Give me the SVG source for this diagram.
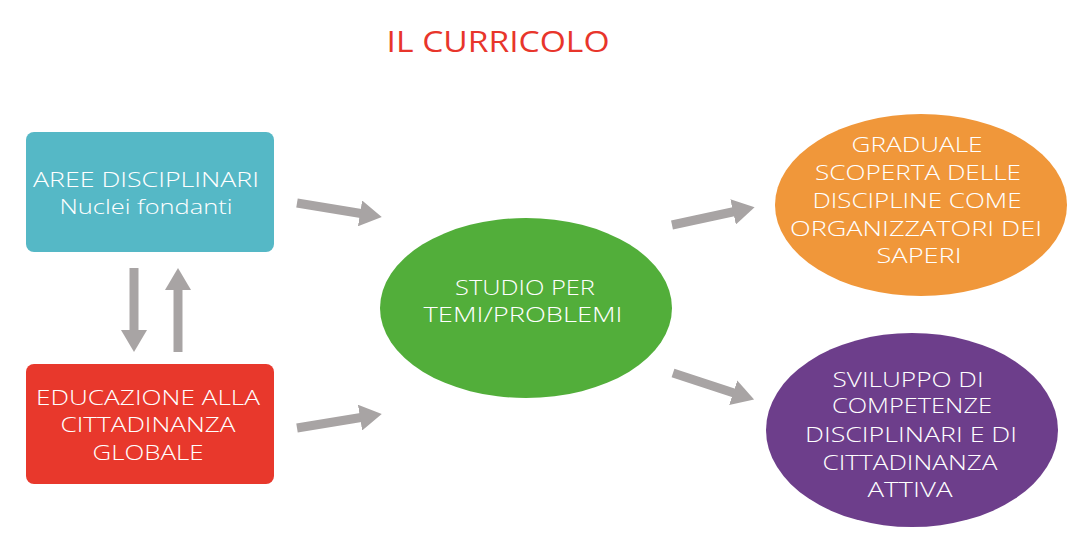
<svg xmlns="http://www.w3.org/2000/svg" width="1083" height="555" viewBox="0 0 1083 555">
<style>
.t{font-family:"Open Sans","Liberation Sans",sans-serif;font-size:21px;font-weight:300;fill:#ffffff;text-anchor:middle}
.title{font-family:"Open Sans","Liberation Sans",sans-serif;font-size:30px;font-weight:500;fill:#e8352b;text-anchor:middle}
.c{stroke:#a8a4a4;stroke-width:9;fill:none;marker-end:url(#ah)}
</style>
<defs>
<marker id="ah" markerUnits="userSpaceOnUse" viewBox="0 0 22 26" refX="4" refY="13" markerWidth="22" markerHeight="26" orient="auto">
<path d="M0,0 L22,13 L0,26 z" fill="#a8a4a4"/>
</marker>
</defs>
<rect width="1083" height="555" fill="#ffffff"/>
<text class="title" x="498" y="52" textLength="223" lengthAdjust="spacingAndGlyphs">IL CURRICOLO</text>
<g id="connectors">
<line class="c" x1="297" y1="203" x2="364" y2="214"/>
<line class="c" x1="297" y1="428" x2="364" y2="417"/>
<line class="c" x1="672" y1="225" x2="737" y2="211"/>
<line class="c" x1="673" y1="373" x2="737" y2="394"/>
<line class="c" x1="134" y1="268" x2="134" y2="334"/>
<line class="c" x1="178" y1="352" x2="178" y2="286"/>
</g>
<g id="aree">
<rect x="26" y="132" width="248" height="120" rx="8" fill="#55b8c6"/>
<text class="t" x="146" y="187" textLength="226" lengthAdjust="spacingAndGlyphs">AREE DISCIPLINARI</text>
<text class="t" x="146" y="214" textLength="173" lengthAdjust="spacingAndGlyphs">Nuclei fondanti</text>
</g>
<g id="educazione">
<rect x="26" y="364" width="248" height="120" rx="8" fill="#e8382c"/>
<text class="t" x="148" y="405" textLength="224" lengthAdjust="spacingAndGlyphs">EDUCAZIONE ALLA</text>
<text class="t" x="148" y="432" textLength="175" lengthAdjust="spacingAndGlyphs">CITTADINANZA</text>
<text class="t" x="148" y="460" textLength="111" lengthAdjust="spacingAndGlyphs">GLOBALE</text>
</g>
<g id="studio">
<ellipse cx="526" cy="308" rx="146" ry="90" fill="#52ae3a"/>
<text class="t" x="525" y="295" textLength="140" lengthAdjust="spacingAndGlyphs">STUDIO PER</text>
<text class="t" x="523" y="322" textLength="199" lengthAdjust="spacingAndGlyphs">TEMI/PROBLEMI</text>
</g>
<g id="graduale">
<ellipse cx="921" cy="205" rx="146" ry="91" fill="#f0973a"/>
<text class="t" x="917" y="152" textLength="131" lengthAdjust="spacingAndGlyphs">GRADUALE</text>
<text class="t" x="918" y="180" textLength="206" lengthAdjust="spacingAndGlyphs">SCOPERTA DELLE</text>
<text class="t" x="917" y="208" textLength="209" lengthAdjust="spacingAndGlyphs">DISCIPLINE COME</text>
<text class="t" x="916" y="236" textLength="252" lengthAdjust="spacingAndGlyphs">ORGANIZZATORI DEI</text>
<text class="t" x="919" y="263" textLength="85" lengthAdjust="spacingAndGlyphs">SAPERI</text>
</g>
<g id="sviluppo">
<ellipse cx="912" cy="430" rx="146" ry="97" fill="#6d3e8b"/>
<text class="t" x="908" y="387" textLength="151" lengthAdjust="spacingAndGlyphs">SVILUPPO DI</text>
<text class="t" x="912" y="413" textLength="160" lengthAdjust="spacingAndGlyphs">COMPETENZE</text>
<text class="t" x="911" y="442" textLength="212" lengthAdjust="spacingAndGlyphs">DISCIPLINARI E DI</text>
<text class="t" x="910" y="470" textLength="175" lengthAdjust="spacingAndGlyphs">CITTADINANZA</text>
<text class="t" x="910" y="497" textLength="85" lengthAdjust="spacingAndGlyphs">ATTIVA</text>
</g>
</svg>
